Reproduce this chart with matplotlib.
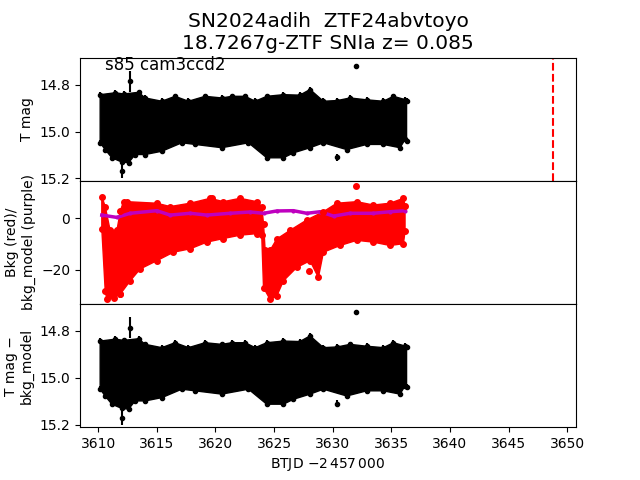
import numpy as np
import matplotlib
matplotlib.use('Agg')
import matplotlib.pyplot as plt

# --- light curve (T mag) envelope
t_up = [3610.17, 3611.45, 3612.2, 3613.44, 3614.01, 3615.43, 3616.56, 3617.7,
        3619.12, 3620.54, 3621.4, 3622.53, 3623.39, 3624.38, 3625.8, 3627.2,
        3628.07, 3629.21, 3630.4, 3631.48, 3632.9, 3634.32, 3635.18, 3636.17, 3636.3]
mag_up = [14.843, 14.835, 14.84, 14.833, 14.857, 14.871, 14.85, 14.871,
          14.85, 14.857, 14.85, 14.85, 14.871, 14.85, 14.843, 14.845,
          14.821, 14.871, 14.868, 14.857, 14.865, 14.871, 14.85, 14.864, 14.87]
t_lo = [3610.17, 3610.6, 3611.17, 3612.02, 3612.59, 3613.15, 3614.01, 3615.43,
        3617.13, 3618.27, 3620.54, 3622.82, 3624.38, 3625.8, 3626.65, 3628.07,
        3629.21, 3631.2, 3632.9, 3634.32, 3635.74, 3636.17, 3636.3]
mag_lo = [15.048, 15.077, 15.112, 15.13, 15.133, 15.098, 15.098, 15.084,
          15.048, 15.055, 15.069, 15.048, 15.112, 15.112, 15.091, 15.069,
          15.048, 15.077, 15.055, 15.055, 15.069, 15.034, 15.04]
# isolated points and their error bars
t_out = [3612.73, 3612.02, 3630.35, 3632.0]
mag_out = [14.786, 15.169, 15.11, 14.72]
err_out = [0.045, 0.03, 0.015, 0.006]

# --- background (red) and background model (purple)
t_bk_up = [3610.31, 3610.6, 3611.02, 3611.6, 3611.9, 3612.16, 3612.44, 3615.0,
           3616.14, 3617.84, 3619.55, 3620.68, 3622.1, 3623.53, 3623.95, 3624.1,
           3624.24, 3624.66, 3625.23, 3626.37, 3627.79, 3629.21, 3630.35,
           3632.05, 3633.47, 3634.89, 3636.03, 3636.17]
bk_up = [8.5, 4.6, -4.6, -4.6, 3.0, 6.5, 6.5, 5.9,
         4.6, 5.9, 7.8, 6.5, 7.8, 6.5, 4.6, -2.0,
         -12.4, -12.4, -8.0, -4.6, -0.6, 2.6, 5.9,
         6.5, 5.2, 5.9, 7.8, 5.0]
t_bk_lo = [3610.31, 3610.6, 3610.74, 3611.31, 3611.88, 3612.73, 3613.58, 3615.0,
           3616.42, 3617.84, 3619.26, 3620.68, 3622.1, 3623.53, 3623.95, 3624.1,
           3624.66, 3625.23, 3625.8, 3626.94, 3628.07, 3628.78, 3629.21,
           3630.63, 3632.05, 3633.47, 3634.89, 3636.03, 3636.17]
bk_lo = [-4.0, -28.0, -31.4, -30.7, -29.4, -24.2, -19.6, -16.4,
         -13.1, -11.8, -9.2, -7.8, -6.5, -5.9, -6.5, -26.8,
         -31.4, -30.1, -24.2, -19.0, -16.4, -22.9, -13.1,
         -10.5, -8.5, -9.2, -10.5, -9.8, -5.0]
t_bk_out = [3619.69, 3631.97, 3628.0, 3611.9]
bk_out = [7.8, 12.7, -20.5, -29.4]

t_model = [3610.31, 3611.59, 3612.73, 3615.0, 3616.14, 3617.84, 3619.26, 3621.25,
           3622.96, 3624.1, 3625.23, 3626.65, 3627.79, 3628.93, 3630.07, 3631.48,
           3633.47, 3634.89, 3636.17]
bkg_model = [1.3, 0.4, 2.0, 3.0, 1.3, 2.0, 1.3, 2.0,
             2.5, 2.0, 2.9, 3.0, 2.0, 2.6, 0.9, 2.0,
             2.0, 2.6, 3.0]

t_peak = 3648.76

fig, axs = plt.subplots(3, 1, sharex=True, figsize=(6.4, 4.8), dpi=100)
fig.subplots_adjust(hspace=0)

def band(ax, tu, yu, tl, yl, color, ms, err=0):
    ax.fill(np.r_[tu, tl[::-1]], np.r_[yu, yl[::-1]], color=color, lw=1)
    ax.errorbar(tu, yu, yerr=err, fmt='o', color=color, ms=ms)
    ax.errorbar(tl, yl, yerr=err, fmt='o', color=color, ms=ms)

# top and bottom: T mag
for ax in (axs[0], axs[2]):
    band(ax, np.array(t_up), np.array(mag_up), np.array(t_lo), np.array(mag_lo), 'k', 3, 0.012)
    ax.errorbar(t_out, mag_out, yerr=err_out, fmt='ko', ms=3)
    ax.set_ylim(15.21, 14.685)
    ax.set_yticks([14.8, 15.0, 15.2])

axs[0].axvline(t_peak, color='r', ls='--', lw=1.5)
axs[0].text(0.05, 0.9, 's85 cam3ccd2', transform=axs[0].transAxes, fontsize=12)
axs[0].set_ylabel('T mag')
axs[0].set_title('SN2024adih  ZTF24abvtoyo\n18.7267g-ZTF SNIa z= 0.085', fontsize=14.5)

# middle: background
band(axs[1], np.array(t_bk_up), np.array(bk_up), np.array(t_bk_lo), np.array(bk_lo), 'r', 4)
axs[1].plot(t_bk_out, bk_out, 'ro', ms=4)
axs[1].plot(t_model, bkg_model, '.-', color='m', lw=2.5, ms=4)
axs[1].set_ylim(-33.2, 14.6)
axs[1].set_yticks([-20, 0])
axs[1].set_ylabel('Bkg (red)/\nbkg_model (purple)')

axs[2].set_ylabel('T mag \u2212\nbkg_model')
axs[2].set_xlabel(r'BTJD $-2\,457\,000$')

for ax in axs[:2]:
    ax.tick_params(bottom=False, labelbottom=False)
axs[2].set_xlim(3608.45, 3650.75)

fig.savefig('out.png')
